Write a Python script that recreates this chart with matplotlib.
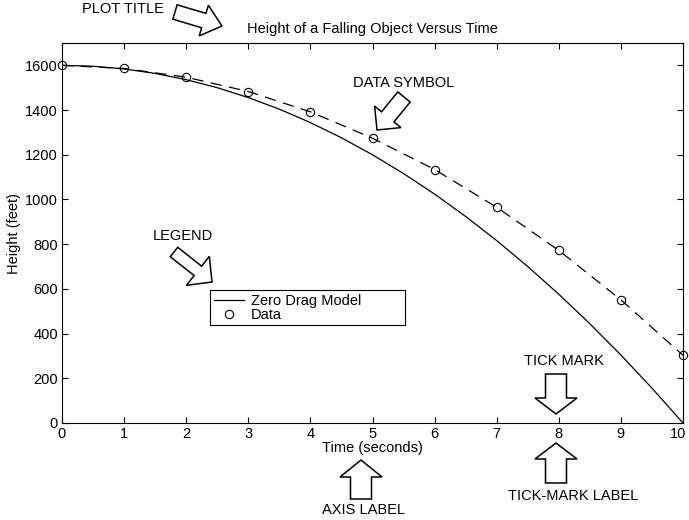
import matplotlib
matplotlib.use('Agg')
import matplotlib.pyplot as plt
import matplotlib.transforms as mtransforms
import numpy as np
from matplotlib.patches import Polygon

# zero drag model, every half second
t_model = [0, 0.5, 1, 1.5, 2, 2.5, 3, 3.5, 4, 4.5, 5, 5.5, 6, 6.5, 7, 7.5, 8, 8.5, 9, 9.5, 10]
h_model = [1600, 1596, 1584, 1564, 1536, 1500, 1456, 1404, 1344, 1276, 1200, 1116, 1024, 924,
           816, 700, 576, 444, 304, 156, 0]

# measured data points
t_data = [0, 1, 2, 3, 4, 5, 6, 7, 8, 9, 10]
h_data = [1600, 1586, 1547, 1483, 1392, 1274, 1134, 965, 772, 551, 303]

x_ticks = [0, 1, 2, 3, 4, 5, 6, 7, 8, 9, 10]
y_ticks = [0, 200, 400, 600, 800, 1000, 1200, 1400, 1600]

W, H = 689, 520
plt.rcParams['font.family'] = ['Liberation Sans', 'DejaVu Sans']
fs = 10.5

fig = plt.figure(figsize=(W / 100, H / 100), dpi=100)
ax = fig.add_axes([62 / W, 1 - 423 / H, (683 - 62) / W, (423 - 43) / H])

line_model, = ax.plot(t_model, h_model, color='black', lw=0.9, label='Zero Drag Model')
ax.plot(t_data, h_data, color='black', lw=0.9, linestyle=(0, (9, 6)))
pts, = ax.plot(t_data, h_data, 'o', color='black', mfc='none', ms=6, mew=0.8,
               linestyle='none', label='Data', clip_on=False)

ax.set_xlim(0, 10)
ax.set_ylim(0, 1700)
ax.set_xticks(x_ticks)
ax.set_yticks(y_ticks)
ax.tick_params(direction='in', top=True, right=True, length=4, width=0.8, labelsize=fs)
ax.tick_params(axis='x', pad=3)
ax.tick_params(axis='y', pad=3)
for s in ax.spines.values():
    s.set_linewidth(0.8)

# last x label sits on the figure edge, nudge it in a little
last = ax.get_xticklabels()[-1]
last.set_transform(last.get_transform() + mtransforms.ScaledTranslation(-5 / 100, 0, fig.dpi_scale_trans))

ax.set_title('Height of a Falling Object Versus Time', fontsize=fs, pad=7)
ax.set_xlabel('Time (seconds)', fontsize=fs, labelpad=0)
ax.set_ylabel('Height (feet)', fontsize=fs, labelpad=3)

leg = ax.legend(handles=[line_model, pts], loc='upper left', mode='expand',
                bbox_to_anchor=(210 / W, 1 - 326 / H, 195 / W, 36 / H),
                bbox_transform=fig.transFigure, fontsize=fs, frameon=True,
                fancybox=False, framealpha=1, edgecolor='black', borderaxespad=0,
                handlelength=2.1, handletextpad=0.45, labelspacing=0.0, borderpad=0.25)
leg.get_frame().set_linewidth(0.8)


def block_arrow(tip, tail, shaft_w, head_w, head_len):
    # outlined block arrow, given in pixel coordinates (y down)
    tip = np.array(tip, float)
    tail = np.array(tail, float)
    u = (tip - tail) / np.linalg.norm(tip - tail)
    n = np.array([-u[1], u[0]])
    base = tip - u * head_len
    pts_px = [tail + n * shaft_w / 2, base + n * shaft_w / 2, base + n * head_w / 2, tip,
              base - n * head_w / 2, base - n * shaft_w / 2, tail - n * shaft_w / 2]
    xy = [(p[0] / W, 1 - p[1] / H) for p in pts_px]
    fig.patches.append(Polygon(xy, closed=True, facecolor='white', edgecolor='black',
                               lw=1.1, transform=fig.transFigure, zorder=5))


block_arrow((222, 26), (175, 12), 15, 32, 19)
block_arrow((377, 130), (404, 97), 16, 34, 17)
block_arrow((212, 282), (174, 252), 12, 37, 18)
block_arrow((556, 414), (556, 374), 21, 42, 16)
block_arrow((361, 460), (361, 499), 21, 42, 17)
block_arrow((556, 443), (556, 483), 21, 42, 16)

notes = [('PLOT TITLE', 123, 9), ('DATA SYMBOL', 404, 83), ('LEGEND', 183, 236),
         ('TICK MARK', 564, 361), ('AXIS LABEL', 364, 510), ('TICK-MARK LABEL', 573, 496)]
for txt, x, y in notes:
    fig.text(x / W, 1 - y / H, txt, ha='center', va='center', fontsize=fs)

fig.savefig('out.png', dpi=100)
